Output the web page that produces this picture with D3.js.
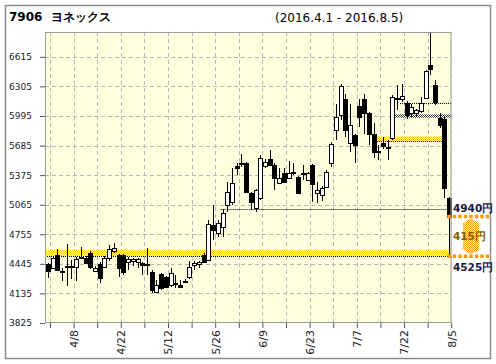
<!DOCTYPE html>
<html>
<head>
<meta charset="utf-8">
<script src="https://cdn.jsdelivr.net/npm/d3@7"></script>
<style>
  body { margin: 0; background: #fff; }
  text { font-family: "DejaVu Sans", Verdana, sans-serif; }
</style>
</head>
<body>
<div id="chart"></div>
<script>
// trading days 2016.4.1 - 2016.8.5
var dates = ["4/1","4/4","4/5","4/6","4/7","4/8","4/11","4/12","4/13","4/14","4/15",
  "4/18","4/19","4/20","4/21","4/22","4/25","4/26","4/27","4/28","5/2","5/6",
  "5/9","5/10","5/11","5/12","5/13","5/16","5/17","5/18","5/19","5/20","5/23","5/24","5/25","5/26","5/27",
  "5/30","5/31","6/1","6/2","6/3","6/6","6/7","6/8","6/9","6/10","6/13","6/14","6/15","6/16","6/17",
  "6/20","6/21","6/22","6/23","6/24","6/27","6/28","6/29","6/30","7/1","7/4","7/5","7/6","7/7","7/8",
  "7/11","7/12","7/13","7/14","7/15","7/19","7/20","7/21","7/22","7/25","7/26","7/27","7/28","7/29",
  "8/1","8/2","8/3","8/4","8/5"];

var open  = [4440,4405,4537,4365,4410,4418,4415,4505,4510,4560,4372,4440,4415,4510,4580,4540,4540,4467,4470,4462,4450,4445,
  4362,4153,4335,4310,4223,4235,4220,4262,4303,4432,4440,4537,4485,4851,4764,4827,5061,5096,5472,5497,5497,5190,5026,5131,
  5469,5549,5486,5294,5399,5340,5405,5357,5395,5322,5479,5183,5165,5253,5505,5846,6003,6178,5707,5794,6098,6178,6028,5811,
  5630,5713,5654,5760,6170,6178,6136,6031,6021,6045,6185,6527,6318,5976,5962,5138];
var high  = [4455,4530,4600,4400,4655,4490,4520,4620,4530,4575,4420,4460,4525,4645,4660,4548,4548,4515,4510,4505,4460,4610,
  4380,4275,4345,4320,4400,4328,4275,4290,4470,4480,4475,4560,4904,5061,4900,5025,5300,5445,5497,5600,5510,5200,5225,5585,
  5540,5637,5500,5452,5445,5522,5497,5365,5480,5410,5490,5305,5260,5430,5720,6125,6330,6230,6125,5811,6178,6230,6040,5916,
  5690,5770,5742,6210,6318,6335,6150,6125,6073,6195,6475,6950,6370,6021,5990,5150];
var low   = [4293,4398,4370,4260,4210,4290,4260,4495,4445,4395,4362,4240,4400,4470,4560,4310,4328,4380,4420,4400,4328,4330,
  4136,4136,4171,4195,4205,4188,4188,4240,4290,4380,4400,4450,4470,4694,4730,4730,4991,5061,5375,5462,5190,5010,4991,5110,
  5450,5470,5218,5290,5290,5330,5380,5172,5323,5310,5096,5080,5100,5240,5462,5742,5951,5776,5620,5497,5881,5811,5690,5550,
  5530,5650,5532,5742,6056,6143,5962,5986,5986,6021,6170,6422,6108,5865,5131,4940];
var close = [4372,4502,4380,4362,4418,4410,4500,4515,4455,4415,4405,4293,4510,4605,4612,4405,4363,4500,4500,4497,4435,4432,
  4170,4223,4188,4205,4345,4245,4205,4255,4415,4457,4460,4467,4862,4799,4875,4980,5200,5295,5445,5487,5200,5096,5218,5557,
  5514,5479,5340,5340,5305,5399,5395,5183,5390,5399,5287,5218,5235,5410,5700,5986,6307,5846,5898,5690,5986,6028,5811,5619,
  5625,5679,5672,6195,6180,6203,6010,6090,6056,6136,6464,6492,6143,5899,5242,4940];

var yTicks = [3825, 4135, 4445, 4755, 5065, 5375, 5685, 5995, 6305, 6615];
var xTicks = d3.range(0, dates.length, 5);

// reference levels drawn over the candles
var lastPrice = 4940, gapBottom = 4525;
var lowBand = [4525, 4592];       // yellow band across the chart
var highBand = [5731, 5780];      // yellow band in late July
var greyBand = [5977, 6012];      // checkered band
var dotLevels = [5020, 6134];

(function () {
var svgWidth = 496, svgHeight = 364;
var pLeft = 45, pRight = 451.5, pTop = 32, pBottom = 323;

var svg = d3.select("#chart").append("svg")
  .attr("width", svgWidth).attr("height", svgHeight);

var defs = svg.append("defs");
function checker(id, c1, c2) {
  var p = defs.append("pattern").attr("id", id)
    .attr("width", 2).attr("height", 2).attr("patternUnits", "userSpaceOnUse");
  p.append("rect").attr("width", 2).attr("height", 2).attr("fill", c2);
  p.append("rect").attr("width", 1).attr("height", 1).attr("fill", c1);
  p.append("rect").attr("x", 1).attr("y", 1).attr("width", 1).attr("height", 1).attr("fill", c1);
}
checker("yel", "#ffcc00", "#ffffc8");
checker("gry", "#333", "#fff");
checker("org", "#ff9900", "#fff0c8");
defs.append("clipPath").attr("id", "plotClip").append("rect")
  .attr("x", pLeft).attr("y", pTop).attr("width", pRight - pLeft).attr("height", pBottom - pTop);

// outer frame
svg.append("rect").attr("x", 5.5).attr("y", 5.5).attr("width", 485).attr("height", 353)
  .attr("fill", "#fff").attr("stroke", "#8c8c8c").attr("stroke-width", 1.5);

svg.append("text").attr("x", 9).attr("y", 21)
  .style("font-size", "12px").style("font-weight", "bold")
  .text("7906\u00a0\u00a0ヨネックス");
svg.append("text").attr("x", 275).attr("y", 22)
  .style("font-size", "12px")
  .text("(2016.4.1 - 2016.8.5)");

var x = d3.scaleLinear().domain([-0.6, 85.5]).range([pLeft, pRight]);
var y = d3.scaleLinear().domain([3825, 6875]).range([pBottom, pTop]);

svg.append("rect").attr("x", pLeft).attr("y", pTop)
  .attr("width", pRight - pLeft).attr("height", pBottom - pTop)
  .attr("fill", "#ffffe0");

var plot = svg.append("g").attr("clip-path", "url(#plotClip)");

// grid
plot.selectAll(".hg").data(yTicks.slice(1)).enter().append("line")
  .attr("x1", pLeft).attr("x2", pRight)
  .attr("y1", d => Math.round(y(d)) + 0.5).attr("y2", d => Math.round(y(d)) + 0.5)
  .attr("stroke", "#b8b8b8").attr("stroke-dasharray", "4,3");
plot.selectAll(".vg").data(xTicks).enter().append("line")
  .attr("x1", d => Math.round(x(d + 0.45)) + 0.5).attr("x2", d => Math.round(x(d + 0.45)) + 0.5)
  .attr("y1", pTop).attr("y2", pBottom)
  .attr("stroke", "#b8b8b8").attr("stroke-dasharray", "4,3");

// bands and level lines
function band(range, fromIdx, toIdx, fill) {
  var x0 = fromIdx == null ? pLeft : x(fromIdx);
  var x1 = toIdx == null ? pRight : x(toIdx);
  plot.append("rect")
    .attr("x", x0).attr("width", x1 - x0)
    .attr("y", y(range[1])).attr("height", y(range[0]) - y(range[1]))
    .attr("fill", "url(#" + fill + ")");
}
function dotted(v, fromIdx, toIdx) {
  plot.append("line")
    .attr("x1", fromIdx == null ? pLeft : x(fromIdx))
    .attr("x2", toIdx == null ? pRight : x(toIdx))
    .attr("y1", Math.round(y(v)) + 0.5).attr("y2", Math.round(y(v)) + 0.5)
    .attr("stroke", "#000").attr("stroke-dasharray", "1,1");
}
band(lowBand, null, null, "yel");
dotted(lowBand[0], null, null);
band(highBand, 69.7, 83.5, "yel");
dotted(highBand[0], 69.7, 83.5);
band(greyBand, 73.2, null, "gry");
dotted(dotLevels[0], 36.6, null);
dotted(dotLevels[1], 74.6, null);

// candles
var idx = d3.range(dates.length);
var cg = plot.append("g").attr("shape-rendering", "crispEdges");
cg.selectAll(".wick").data(idx).enter().append("line")
  .attr("x1", i => Math.round(x(i)) + 0.5).attr("x2", i => Math.round(x(i)) + 0.5)
  .attr("y1", i => y(high[i])).attr("y2", i => y(low[i]))
  .attr("stroke", "#000");
cg.selectAll(".body").data(idx).enter().append("rect")
  .attr("x", i => Math.round(x(i)) - 1.5)
  .attr("width", 4)
  .attr("y", i => Math.round(y(Math.max(open[i], close[i]))))
  .attr("height", i => Math.max(1, Math.round(y(Math.min(open[i], close[i]))) - Math.round(y(Math.max(open[i], close[i])))))
  .attr("fill", i => close[i] >= open[i] ? "#fff" : "#000")
  .attr("stroke", "#000").attr("stroke-width", 1);

// plot frame
svg.append("rect").attr("x", pLeft + 0.5).attr("y", pTop + 0.5)
  .attr("width", pRight - pLeft - 1).attr("height", pBottom - pTop - 1)
  .attr("fill", "none").attr("stroke", "#9a9a9a");

// axes
var yAxis = d3.axisLeft(y).tickValues(yTicks).tickSize(5).tickPadding(8).tickFormat(d => String(d));
var gy = svg.append("g").attr("transform", "translate(" + pLeft + ",0)").call(yAxis);
var xAxis = d3.axisBottom(x).tickValues(xTicks.map(d => d + 0.45)).tickSize(5)
  .tickFormat(d => { var i = Math.round(d - 0.45); return (i - 5) % 10 === 0 ? dates[i] : ""; });
var gx = svg.append("g").attr("transform", "translate(0," + pBottom + ")").call(xAxis);
[gx, gy].forEach(g => {
  g.select(".domain").remove();
  g.selectAll(".tick line").attr("stroke", "#555");
  g.selectAll("text").attr("fill", "#222").style("font-size", "9px")
    .style("font-family", "'DejaVu Sans', Verdana, sans-serif");
});
gx.selectAll("text")
  .attr("transform", "rotate(-90)")
  .attr("x", -7).attr("y", 0).attr("dy", "0.35em")
  .style("text-anchor", "end").style("font-size", "11px");

// price gap marker on the right
var mx0 = x(84.6), mx1 = 489;
svg.append("line").attr("x1", Math.round(x(85)) + 0.5).attr("x2", Math.round(x(85)) + 0.5)
  .attr("y1", y(lastPrice)).attr("y2", y(gapBottom)).attr("stroke", "#000");
var ax = 471, aw = 8, ah = 6;
var yt = y(lastPrice) + 2, yb = y(gapBottom) - 2;
svg.append("path")
  .attr("d", "M" + ax + "," + yt + "L" + (ax + aw + 2) + "," + (yt + ah) +
    "L" + (ax + aw) + "," + (yt + ah) + "L" + (ax + aw) + "," + (yb - ah) +
    "L" + (ax + aw + 2) + "," + (yb - ah) + "L" + ax + "," + yb +
    "L" + (ax - aw - 2) + "," + (yb - ah) + "L" + (ax - aw) + "," + (yb - ah) +
    "L" + (ax - aw) + "," + (yt + ah) + "L" + (ax - aw - 2) + "," + (yt + ah) + "Z")
  .attr("fill", "url(#org)");
[lastPrice, gapBottom].forEach(v => {
  svg.append("line").attr("x1", mx0).attr("x2", mx1)
    .attr("y1", y(v)).attr("y2", y(v))
    .attr("stroke", "#ff9900").attr("stroke-width", 3.5).attr("stroke-dasharray", "3.5,2");
});
svg.append("text").attr("x", 453).attr("y", y(lastPrice) - 5)
  .style("font-size", "10.5px").style("font-weight", "bold").attr("fill", "#1a1a40")
  .text(lastPrice + "円");
svg.append("text").attr("x", 453).attr("y", (y(lastPrice) + y(gapBottom)) / 2 + 4)
  .style("font-size", "10.5px").style("font-weight", "bold").attr("fill", "#806000")
  .text((lastPrice - gapBottom) + "円");
svg.append("text").attr("x", 453).attr("y", y(gapBottom) + 15)
  .style("font-size", "10.5px").style("font-weight", "bold").attr("fill", "#1a1a40")
  .text(gapBottom + "円");
})();
</script>
</body>
</html>
